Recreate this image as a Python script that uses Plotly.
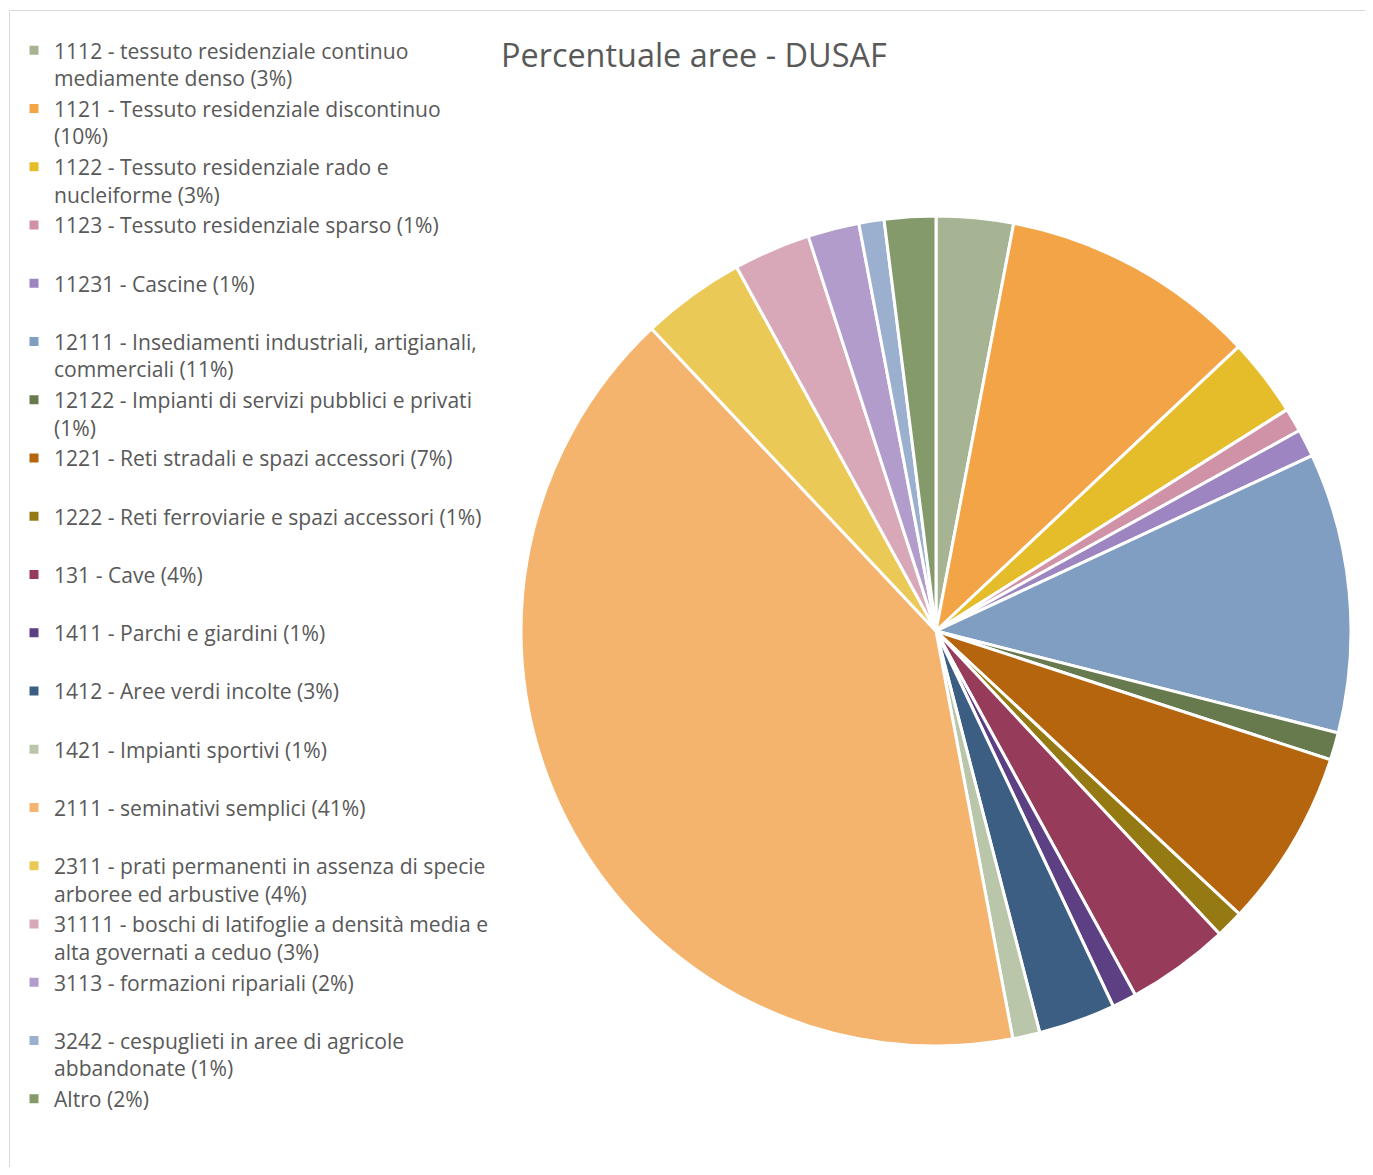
import plotly.graph_objects as go

# ---- data ----
categories = [
    "1112 - tessuto residenziale continuo mediamente denso",
    "1121 - Tessuto residenziale discontinuo",
    "1122 - Tessuto residenziale rado e nucleiforme",
    "1123 - Tessuto residenziale sparso",
    "11231 - Cascine",
    "12111 - Insediamenti industriali, artigianali, commerciali",
    "12122 - Impianti di servizi pubblici e privati",
    "1221 - Reti stradali e spazi accessori",
    "1222 - Reti ferroviarie e spazi accessori",
    "131 - Cave",
    "1411 - Parchi e giardini",
    "1412 - Aree verdi incolte",
    "1421 - Impianti sportivi",
    "2111 - seminativi semplici",
    "2311 - prati permanenti in assenza di specie arboree ed arbustive",
    "31111 - boschi di latifoglie a densità media e alta governati a ceduo",
    "3113 - formazioni ripariali",
    "3242 - cespuglieti in aree di agricole abbandonate",
    "Altro",
]
# legend text exactly as shown (with its line wraps)
legend_text = [
    "1112 - tessuto residenziale continuo<br>mediamente denso (3%)",
    "1121 - Tessuto residenziale discontinuo<br>(10%)",
    "1122 - Tessuto residenziale rado e<br>nucleiforme (3%)",
    "1123 - Tessuto residenziale sparso (1%)",
    "11231 - Cascine (1%)",
    "12111 - Insediamenti industriali, artigianali,<br>commerciali (11%)",
    "12122 - Impianti di servizi pubblici e privati<br>(1%)",
    "1221 - Reti stradali e spazi accessori (7%)",
    "1222 - Reti ferroviarie e spazi accessori (1%)",
    "131 - Cave (4%)",
    "1411 - Parchi e giardini (1%)",
    "1412 - Aree verdi incolte (3%)",
    "1421 - Impianti sportivi (1%)",
    "2111 - seminativi semplici (41%)",
    "2311 - prati permanenti in assenza di specie<br>arboree ed arbustive (4%)",
    "31111 - boschi di latifoglie a densità media e<br>alta governati a ceduo (3%)",
    "3113 - formazioni ripariali (2%)",
    "3242 - cespuglieti in aree di agricole<br>abbandonate (1%)",
    "Altro (2%)",
]
values = [3.0, 10.0, 3.05, 0.93, 1.08, 10.9, 1.07, 6.93, 1.08, 4.0,
          0.95, 3.0, 1.06, 40.96, 4.04, 3.0, 2.0, 0.98, 2.0]
colors = ["#A6B493", "#F3A447", "#E5BD2A", "#D092A7", "#9C85C0", "#809EC2",
          "#677A4E", "#B5650D", "#957912", "#963C5A", "#5D3F83", "#3B5E82",
          "#B9C6AA", "#F4B46D", "#EBC956", "#D9A8B8", "#B29CCC", "#9AB0CE",
          "#849A6B"]
title_text = "Percentuale aree - DUSAF"

# ---- figure geometry (figure sits at 8px body margin) ----
W, H = 1357, 1159
OFF = 8


def px(x):
    return (x - OFF) / W


def py(y):
    return 1 - (y - OFF) / H


def two_lines(t):
    return t if "<br>" in t else t + "<br>\u00a0"


labels = [
    '<span style="font-size:21.1px">' + two_lines(t) + "</span>"
    for t in legend_text
]

fig = go.Figure(
    go.Pie(
        labels=labels,
        values=values,
        marker=dict(colors=colors, line=dict(color="white", width=3)),
        sort=False,
        direction="clockwise",
        rotation=0,
        textinfo="none",
        hoverinfo="label+percent",
        domain=dict(x=[px(521), px(1351)], y=[py(1046), py(216)]),
    )
)

fig.update_layout(
    width=W,
    height=H,
    margin=dict(l=0, r=0, t=0, b=0),
    paper_bgcolor="white",
    plot_bgcolor="white",
    font=dict(family="Open Sans, sans-serif", color="#595959"),
    showlegend=True,
    legend=dict(
        x=px(14),
        y=py(30),
        xanchor="left",
        yanchor="top",
        valign="top",
        traceorder="normal",
        font=dict(family="Open Sans, sans-serif", size=21.25, color="#595959"),
        bgcolor="rgba(0,0,0,0)",
        borderwidth=0,
    ),
    annotations=[
        dict(
            text=title_text,
            x=px(499),
            y=py(30),
            xref="paper",
            yref="paper",
            xanchor="left",
            yanchor="top",
            showarrow=False,
            font=dict(family="Open Sans, sans-serif", size=32.4, color="#595959"),
        )
    ],
    shapes=[
        dict(type="line", xref="paper", yref="paper",
             x0=px(9.5), x1=1.05, y0=py(10.5), y1=py(10.5),
             line=dict(color="#D9D9D9", width=1)),
        dict(type="line", xref="paper", yref="paper",
             x0=px(9.5), x1=px(9.5), y0=py(10.5), y1=-0.05,
             line=dict(color="#D9D9D9", width=1)),
    ],
)

fig.write_html("out.html")
